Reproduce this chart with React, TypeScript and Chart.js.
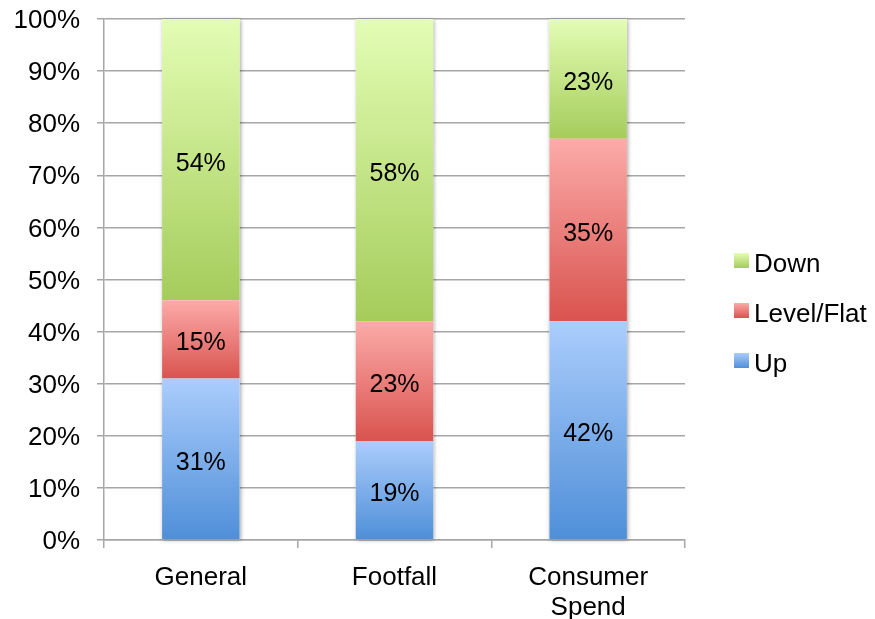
import React, { useEffect, useRef } from 'react';
import { Chart, registerables } from 'chart.js';

Chart.register(...registerables);

const categories: (string | string[])[] = ['General', 'Footfall', ['Consumer', 'Spend']];
const seriesNames = ['Up', 'Level/Flat', 'Down'];
const upValues = [31, 19, 42];
const levelValues = [15, 23, 35];
const downValues = [54, 58, 23];
const yTickValues = [0, 10, 20, 30, 40, 50, 60, 70, 80, 90, 100];

const gradients: [string, string][] = [
  ['#abcdfc', '#4f8fd8'],
  ['#fcaba9', '#d9534f'],
  ['#e3fdb4', '#a5cc5b'],
];

const FONT = "'Liberation Sans', Arial, sans-serif";
const AXIS_FONT_SIZE = 26;
const LABEL_FONT_SIZE = 25;

const gradientPlugin = {
  id: 'segGradients',
  beforeDatasetsDraw(chart: any) {
    const ctx = chart.ctx;
    chart.data.datasets.forEach((_ds: any, di: number) => {
      const meta = chart.getDatasetMeta(di);
      meta.data.forEach((el: any) => {
        const top = Math.min(el.y, el.base);
        const bottom = Math.max(el.y, el.base);
        const g = ctx.createLinearGradient(0, top, 0, bottom);
        g.addColorStop(0, gradients[di][0]);
        g.addColorStop(1, gradients[di][1]);
        el.options = Object.assign({}, el.options, { backgroundColor: g });
      });
    });
    const n = chart.data.labels.length;
    const first = chart.getDatasetMeta(0).data;
    const last = chart.getDatasetMeta(chart.data.datasets.length - 1).data;
    ctx.save();
    ctx.shadowColor = 'rgba(0,0,0,0.35)';
    ctx.shadowBlur = 4;
    ctx.shadowOffsetX = 1;
    ctx.shadowOffsetY = 1;
    ctx.fillStyle = '#ffffff';
    for (let i = 0; i < n; i++) {
      const b = first[i];
      const t = last[i];
      const w = b.width;
      ctx.fillRect(b.x - w / 2, t.y, w, b.base - t.y);
    }
    ctx.restore();
  },
};

const labelPlugin = {
  id: 'segLabels',
  afterDatasetsDraw(chart: any) {
    const ctx = chart.ctx;
    ctx.save();
    ctx.font = `${LABEL_FONT_SIZE}px ${FONT}`;
    ctx.fillStyle = '#000';
    ctx.textAlign = 'center';
    ctx.textBaseline = 'middle';
    chart.data.datasets.forEach((ds: any, di: number) => {
      const meta = chart.getDatasetMeta(di);
      meta.data.forEach((el: any, i: number) => {
        const v = ds.data[i];
        ctx.fillText(`${v}%`, el.x, (el.y + el.base) / 2 + 4);
      });
    });
    ctx.restore();
  },
};

const legendPlugin = {
  id: 'sideLegend',
  afterDraw(chart: any) {
    const ctx = chart.ctx;
    const area = chart.chartArea;
    const boxX = area.right + 49;
    const textX = boxX + 20;
    const box = 15;
    const spacing = 50;
    const order = [2, 1, 0];
    const centerY = chart.height / 2 + 1;
    ctx.save();
    ctx.font = `${AXIS_FONT_SIZE}px ${FONT}`;
    ctx.textAlign = 'left';
    ctx.textBaseline = 'middle';
    order.forEach((di, k) => {
      const cy = centerY + (k - 1) * spacing;
      const top = cy - box / 2;
      const g = ctx.createLinearGradient(0, top, 0, top + box);
      g.addColorStop(0, gradients[di][0]);
      g.addColorStop(1, gradients[di][1]);
      ctx.fillStyle = g;
      ctx.fillRect(boxX, top, box, box);
      ctx.fillStyle = '#000';
      ctx.fillText(chart.data.datasets[di].label, textX, cy + 4);
    });
    ctx.restore();
  },
};

export default function App() {
  const ref = useRef<HTMLCanvasElement>(null);
  useEffect(() => {
    document.body.style.margin = '0';
    const values = [upValues, levelValues, downValues];
    const chart = new Chart(ref.current!, {
      type: 'bar',
      data: {
        labels: categories as any,
        datasets: seriesNames.map((name, i) => ({
          label: name,
          data: values[i],
          backgroundColor: gradients[i][1],
          borderWidth: 0,
          barPercentage: 0.4,
          categoryPercentage: 1,
        })),
      },
      options: {
        animation: false,
        responsive: true,
        maintainAspectRatio: false,
        layout: { padding: { left: 0, top: 19, right: 190, bottom: 0 } },
        plugins: {
          legend: { display: false },
          tooltip: { enabled: false },
        },
        scales: {
          x: {
            stacked: true,
            offset: true,
            afterFit: (s: any) => {
              s.height = 79;
              s.paddingLeft = 0;
              s.paddingRight = 0;
            },
            grid: {
              display: true,
              drawOnChartArea: false,
              drawTicks: true,
              tickLength: 8,
              offset: true,
              color: '#a6a6a6',
              lineWidth: 1.5,
            },
            border: { color: '#a6a6a6', width: 1.5 },
            ticks: {
              color: '#000',
              padding: 15,
              font: { size: AXIS_FONT_SIZE, family: FONT, lineHeight: 1.15 },
              maxRotation: 0,
              autoSkip: false,
            },
          },
          y: {
            stacked: true,
            min: 0,
            max: 100,
            afterBuildTicks: (axis: any) => {
              axis.ticks = yTickValues.map((v) => ({ value: v }));
            },
            afterFit: (s: any) => {
              s.width = 104;
              s.paddingTop = 0;
              s.paddingBottom = 0;
            },
            grid: {
              color: '#a6a6a6',
              lineWidth: 1.5,
              tickLength: 7,
            },
            border: { color: '#a6a6a6', width: 1.5 },
            ticks: {
              color: '#000',
              padding: 17,
              labelOffset: 2,
              font: { size: AXIS_FONT_SIZE, family: FONT },
              callback: (v: any) => `${v}%`,
            },
          },
        },
      },
      plugins: [gradientPlugin, labelPlugin, legendPlugin],
    });
    return () => chart.destroy();
  }, []);
  return (
    <div style={{ width: 875, height: 619, position: 'relative' }}>
      <canvas ref={ref} />
    </div>
  );
}
